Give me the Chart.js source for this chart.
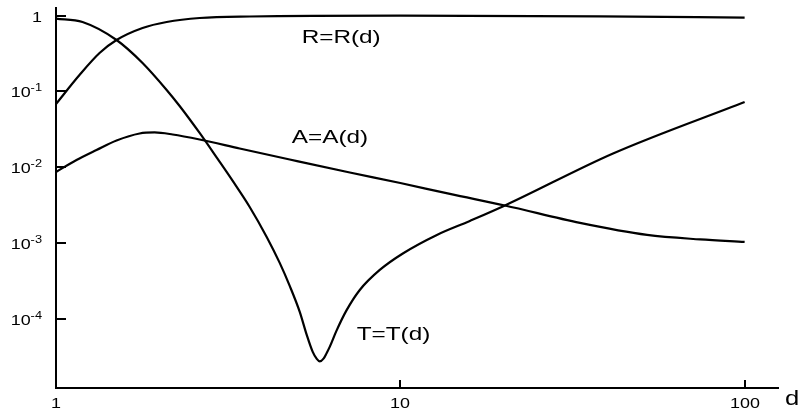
<!DOCTYPE html>
<html>
<head>
<meta charset="utf-8">
<script src="https://cdn.jsdelivr.net/npm/chart.js@4/dist/chart.umd.min.js"></script>
<style>
html,body{margin:0;padding:0;background:#fff;}
#wrap{width:802px;height:412px;}
</style>
</head>
<body>
<div id="wrap"><canvas id="c" width="802" height="412"></canvas></div>
<script>
// ---- data ----
const dR = [1, 1.170, 1.338, 1.499, 1.784, 2.096, 2.613, 3.652, 10, 38, 100];
const R  = [0.0685, 0.1648, 0.321, 0.476, 0.685, 0.821, 0.927, 0.970, 0.994, 0.976, 0.936];

const dT = [1, 1.194, 1.499, 1.784, 2.096, 2.286, 2.613, 2.948, 3.260, 3.652, 4.092, 4.464, 4.773, 5.104, 5.348, 5.567, 5.719, 5.834, 5.992, 6.113, 6.237, 6.523, 6.977, 7.625, 8.716, 10.17, 12.77, 15.92, 20.13, 41.48, 100];
const T  = [0.913, 0.821, 0.476, 0.237, 0.1047, 0.0644, 0.02844, 0.01294, 0.00664, 0.00302, 0.001218, 5.54e-4, 2.76e-4, 1.256e-4, 6.25e-5, 3.73e-5, 3.02e-5, 2.80e-5, 3.07e-5, 3.62e-5, 4.35e-5, 7.06e-5, 1.313e-4, 2.44e-4, 4.48e-4, 7.38e-4, 1.294e-3, 1.977e-3, 3.16e-3, 0.01528, 0.0728];

const dA = [1, 1.147, 1.311, 1.499, 1.749, 1.933, 2.182, 2.613, 3.415, 4.773, 7.133, 10, 13.93, 20.13, 33.25, 52.07, 74.24, 100];
const A  = [0.00873, 0.01256, 0.01699, 0.02266, 0.02800, 0.02889, 0.02717, 0.02334, 0.01778, 0.01274, 0.00859, 0.00625, 0.00448, 0.00316, 0.001862, 0.001294, 0.001129, 0.001047];

const xTickValues = [1, 10, 100];
const xTickLabels = ['1', '10', '100'];
const yTickValues = [1, 0.1, 0.01, 0.001, 0.0001];
const yTickBases  = ['1', '10', '10', '10', '10'];
const yTickExps   = ['', '-1', '-2', '-3', '-4'];

const curveLabels = ['R=R(d)', 'A=A(d)', 'T=T(d)'];
const curveLabelX = [5.17, 4.84, 7.47];
const curveLabelY = [0.537, 0.026, 6.64e-5];
const axisTitleX = 'd';

function pts(xs, ys){ return xs.map((x,i)=>({x:x, y:ys[i]})); }

const FONT = '"Liberation Sans", Arial, sans-serif';
const SX = 1.28;

function drawText(ctx, text, x, y, size, align){
  ctx.save();
  ctx.font = size + 'px ' + FONT;
  ctx.textBaseline = 'alphabetic';
  const w = ctx.measureText(text).width * SX;
  let left = x;
  if (align === 'center') left = x - w/2;
  else if (align === 'right') left = x - w;
  ctx.translate(left, y);
  ctx.scale(SX, 1);
  ctx.textAlign = 'left';
  ctx.fillText(text, 0, 0);
  ctx.restore();
  return w;
}
function textW(ctx, text, size){
  ctx.save(); ctx.font = size + 'px ' + FONT;
  const w = ctx.measureText(text).width * SX; ctx.restore(); return w;
}

const decor = {
  id: 'decor',
  afterDraw(chart){
    const ctx = chart.ctx;
    const xs = chart.scales.x, ys = chart.scales.y;
    const area = chart.chartArea;
    ctx.save();
    ctx.fillStyle = '#000';
    ctx.strokeStyle = '#000';
    ctx.lineWidth = 2;
    yTickValues.forEach((v,i)=>{
      const py = Math.round(ys.getPixelForValue(v));
      ctx.beginPath(); ctx.moveTo(area.left, py); ctx.lineTo(area.left + 10, py); ctx.stroke();
      const base = yTickBases[i], ex = yTickExps[i];
      const wb = textW(ctx, base, 14), we = ex ? textW(ctx, ex, 10) : 0;
      const right = area.left - 14;
      drawText(ctx, base, right - we - wb, py + 6, 14, 'left');
      if (ex) drawText(ctx, ex, right - we, py, 10, 'left');
    });
    xTickValues.forEach((v,i)=>{
      const px = Math.round(xs.getPixelForValue(v));
      if (i > 0){ ctx.beginPath(); ctx.moveTo(px, area.bottom); ctx.lineTo(px, area.bottom - 8); ctx.stroke(); }
      drawText(ctx, xTickLabels[i], px, area.bottom + 20, 14, 'center');
    });
    drawText(ctx, axisTitleX, area.right + 14, area.bottom + 17, 20, 'center');
    curveLabels.forEach((t,i)=>{
      const px = xs.getPixelForValue(curveLabelX[i]);
      const py = ys.getPixelForValue(curveLabelY[i]);
      drawText(ctx, t, px, py + 7, 19, 'left');
    });
    ctx.restore();
  }
};

const common = {borderColor:'#000', borderWidth:2.2, pointRadius:0, fill:false, cubicInterpolationMode:'monotone'};

new Chart(document.getElementById('c'), {
  type: 'line',
  data: {
    datasets: [
      Object.assign({label:'R', data: pts(dR, R)}, common),
      Object.assign({label:'T', data: pts(dT, T)}, common),
      Object.assign({label:'A', data: pts(dA, A)}, common)
    ]
  },
  options: {
    responsive:false,
    animation:false,
    events:[],
    layout:{padding:{left:56, top:8, right:24, bottom:24}},
    plugins:{legend:{display:false}, tooltip:{enabled:false}},
    scales:{
      x:{type:'logarithmic', min:1, max:125,
         ticks:{display:false}, grid:{display:false, drawTicks:false},
         border:{display:true, color:'#000', width:2}},
      y:{type:'logarithmic', min:1.25e-5, max:1.256,
         ticks:{display:false}, grid:{display:false, drawTicks:false},
         border:{display:true, color:'#000', width:2}}
    }
  },
  plugins:[decor]
});
</script>
</body>
</html>
